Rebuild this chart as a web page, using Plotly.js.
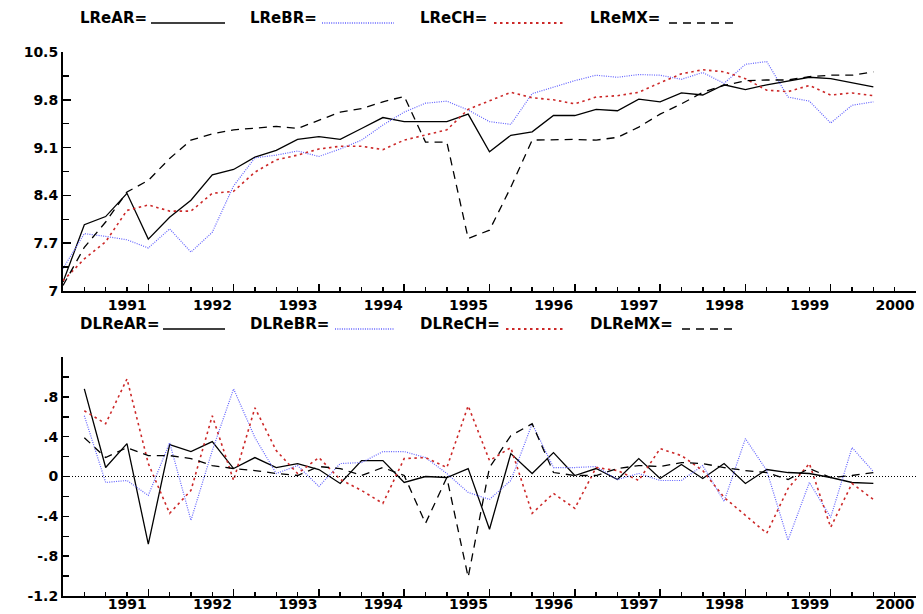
<!DOCTYPE html>
<html>
<head>
<meta charset="utf-8">
<script src="https://cdn.plot.ly/plotly-3.0.1.min.js"></script>
<style>html,body{margin:0;padding:0;background:#fff;}#chart{width:923px;height:614px;}</style>
</head>
<body>
<div id="chart"></div>
<script>
// ---- Data (quarterly, levels start 1990Q1, differences start 1990Q2) ----
const startYear = 1990;
const yearTicks = [1991, 1992, 1993, 1994, 1995, 1996, 1997, 1998, 1999, 2000];

const LReAR = [7.13, 7.97, 8.09, 8.43, 7.76, 8.08, 8.33, 8.70, 8.78, 8.96, 9.06, 9.22,
  9.26, 9.22, 9.38, 9.54, 9.48, 9.48, 9.48, 9.59, 9.04, 9.28, 9.33, 9.57,
  9.57, 9.66, 9.64, 9.81, 9.77, 9.90, 9.87, 10.02, 9.95, 10.02, 10.07, 10.13,
  10.11, 10.05, 9.99];
const LReBR = [7.33, 7.84, 7.80, 7.75, 7.63, 7.91, 7.57, 7.86, 8.54, 8.95, 8.99, 9.05,
  8.97, 9.08, 9.21, 9.43, 9.62, 9.75, 9.78, 9.65, 9.48, 9.44, 9.89, 9.99,
  10.08, 10.16, 10.13, 10.17, 10.16, 10.10, 10.20, 10.04, 10.32, 10.36, 9.84, 9.78,
  9.46, 9.72, 9.77];
const LReCH = [7.15, 7.47, 7.72, 8.18, 8.26, 8.17, 8.17, 8.43, 8.46, 8.74, 8.92, 8.99,
  9.08, 9.12, 9.12, 9.07, 9.21, 9.28, 9.36, 9.66, 9.78, 9.91, 9.83, 9.80,
  9.74, 9.84, 9.86, 9.91, 10.05, 10.18, 10.24, 10.21, 10.11, 9.94, 9.92, 10.01,
  9.87, 9.90, 9.86];
const LReMX = [7.08, 7.64, 8.01, 8.45, 8.62, 8.94, 9.21, 9.30, 9.36, 9.39, 9.41, 9.38,
  9.50, 9.62, 9.67, 9.77, 9.85, 9.18, 9.18, 7.77, 7.89, 8.52, 9.21, 9.22,
  9.22, 9.21, 9.25, 9.40, 9.59, 9.74, 9.91, 10.01, 10.08, 10.09, 10.09, 10.14,
  10.16, 10.16, 10.21];

const DLReAR = [0.88, 0.09, 0.33, -0.68, 0.32, 0.25, 0.35, 0.08, 0.19, 0.09, 0.13,
  0.07, -0.07, 0.16, 0.16, -0.06, 0.00, -0.01, 0.08, -0.53, 0.23, 0.03, 0.24,
  0.01, 0.08, -0.03, 0.18, -0.02, 0.12, -0.02, 0.13, -0.07, 0.07, 0.04, 0.03,
  -0.01, -0.06, -0.07];
const DLReBR = [0.61, -0.06, -0.04, -0.19, 0.34, -0.44, 0.26, 0.88, 0.39, 0.03, 0.11,
  -0.10, 0.13, 0.14, 0.25, 0.25, 0.19, 0.03, -0.16, -0.23, -0.04, 0.53, 0.09,
  0.09, 0.10, -0.03, 0.03, -0.04, -0.04, 0.11, -0.25, 0.38, 0.06, -0.64, -0.06,
  -0.41, 0.29, 0.05];
const DLReCH = [0.66, 0.53, 0.98, 0.13, -0.37, -0.14, 0.61, -0.04, 0.69, 0.26, 0.03,
  0.19, -0.03, -0.14, -0.27, 0.18, 0.19, 0.09, 0.71, 0.16, 0.29, -0.37, -0.17,
  -0.32, 0.09, 0.06, -0.04, 0.28, 0.21, 0.06, -0.21, -0.39, -0.57, -0.12, 0.13,
  -0.51, -0.07, -0.23];
const DLReMX = [0.39, 0.19, 0.29, 0.21, 0.21, 0.18, 0.11, 0.08, 0.06, 0.03, 0.01,
  0.10, 0.08, 0.01, 0.09, 0.01, -0.47, -0.01, -1.01, 0.09, 0.41, 0.53, 0.04,
  0.01, 0.01, 0.08, 0.11, 0.10, 0.14, 0.13, 0.09, 0.06, 0.04, -0.03, 0.08,
  -0.01, 0.01, 0.04];

const topTickVals = [7, 7.7, 8.4, 9.1, 9.8, 10.5];
const topTickText = ["7", "7.7", "8.4", "9.1", "9.8", "10.5"];
const botTickVals = [-1.2, -0.8, -0.4, 0, 0.4, 0.8];
const botTickText = ["-1.2", "-.8", "-.4", "0", ".4", ".8"];

const topNames = ["LReAR=", "LReBR=", "LReCH=", "LReMX="];
const botNames = ["DLReAR=", "DLReBR=", "DLReCH=", "DLReMX="];

// ---- Styles ----
const styles = [
  {color: "#000000", width: 1.3, dash: "solid"},
  {color: "#6262ff", width: 1.2, dash: "1px,1.3px"},
  {color: "#cc2828", width: 1.6, dash: "2.5px,3.5px"},
  {color: "#000000", width: 1.3, dash: "8px,6px"}
];

const qx = (n, offset) => Array.from({length: n}, (_, i) => startYear + (i + offset) / 4);

const W = 923, H = 614, L = 63, R = 916, T = 52, B = 596;
const px2x = p => (p - L) / (R - L);
const py2y = p => (B - p) / (B - T);

const topSeries = [LReAR, LReBR, LReCH, LReMX];
const botSeries = [DLReAR, DLReBR, DLReCH, DLReMX];

const traces = [];
topSeries.forEach((s, k) => traces.push({
  x: qx(s.length, 0), y: s, type: "scatter", mode: "lines",
  xaxis: "x", yaxis: "y", name: topNames[k], showlegend: false,
  line: {color: styles[k].color, width: styles[k].width, dash: styles[k].dash}
}));
botSeries.forEach((s, k) => traces.push({
  x: qx(s.length, 1), y: s, type: "scatter", mode: "lines",
  xaxis: "x2", yaxis: "y2", name: botNames[k], showlegend: false,
  line: {color: styles[k].color, width: styles[k].width, dash: styles[k].dash}
}));

const font = {family: "DejaVu Sans", size: 14, color: "#000", weight: "bold"};

function xAxis(anchor, standoff) {
  return {
    anchor: anchor, domain: [0, 1], range: [1990, 2000],
    showline: true, linecolor: "#000", linewidth: 2, showgrid: false, zeroline: false,
    tickmode: "array", tickvals: yearTicks, ticktext: yearTicks.map(String),
    ticks: "inside", ticklen: 7, tickwidth: 1.5, tickcolor: "#000",
    ticklabelshift: -21, ticklabelstandoff: standoff, tickfont: font,
    minor: {tickmode: "linear", tick0: 1990, dtick: 0.25, ticks: "inside", ticklen: 4,
            tickwidth: 1.5, tickcolor: "#000", showgrid: false}
  };
}

// legend-like labels
const topLegX = [78, 248, 418, 588], topLineX = [[151, 225], [322, 394], [494, 565], [669, 735]];
const botLegX = [78, 248, 418, 588], botLineX = [[163, 225], [335, 394], [506, 565], [682, 735]];
const annotations = [], shapes = [];
const legFont = {family: "DejaVu Sans", size: 15, color: "#000", weight: "bold"};
function addLegend(names, xs, lines, textY, lineY) {
  names.forEach((n, k) => {
    annotations.push({xref: "paper", yref: "paper", x: px2x(xs[k]), y: py2y(textY),
      xanchor: "left", yanchor: "middle", text: n, showarrow: false, font: legFont});
    shapes.push({type: "line", xref: "paper", yref: "paper",
      x0: px2x(lines[k][0]), x1: px2x(lines[k][1]), y0: py2y(lineY), y1: py2y(lineY),
      line: {color: styles[k].color, width: styles[k].width + 0.3, dash: styles[k].dash}});
  });
}
addLegend(topNames, topLegX, topLineX, 18, 23);
addLegend(botNames, botLegX, botLineX, 324, 329);

// dotted zero line in bottom panel
shapes.push({type: "line", xref: "paper", yref: "y2", x0: 0, x1: 1, y0: 0, y1: 0,
  line: {color: "#000", width: 1.2, dash: "1px,2px"}});

const layout = {
  width: W, height: H,
  margin: {l: L, r: W - R, t: T, b: H - B, pad: 0},
  paper_bgcolor: "#fff", plot_bgcolor: "#fff",
  showlegend: false,
  xaxis: xAxis("y", 0),
  xaxis2: xAxis("y2", -6),
  yaxis: {
    domain: [py2y(291), 1], range: [7, 10.5], anchor: "x",
    showline: true, linecolor: "#000", linewidth: 2, showgrid: false, zeroline: false,
    tickmode: "array", tickvals: topTickVals, ticktext: topTickText,
    ticks: "inside", ticklen: 8, tickwidth: 1.5, tickcolor: "#000", tickfont: font,
    minor: {tickmode: "array", tickvals: [7.35, 8.05, 8.75, 9.45, 10.15], ticks: "inside",
            ticklen: 6, tickwidth: 1.5, tickcolor: "#000", showgrid: false}
  },
  yaxis2: {
    domain: [0, py2y(357)], range: [-1.2, 1.2], anchor: "x2",
    showline: true, linecolor: "#000", linewidth: 2, showgrid: false, zeroline: false,
    tickmode: "array", tickvals: botTickVals, ticktext: botTickText,
    ticks: "inside", ticklen: 6, tickwidth: 1.5, tickcolor: "#000", tickfont: font,
    minor: {tickmode: "array", tickvals: [-1.0, -0.6, -0.2, 0.2, 0.6, 1.0], ticks: "inside",
            ticklen: 6, tickwidth: 1.5, tickcolor: "#000", showgrid: false}
  },
  annotations: annotations,
  shapes: shapes
};

Plotly.newPlot("chart", traces, layout, {staticPlot: true, displayModeBar: false});
</script>
</body>
</html>
